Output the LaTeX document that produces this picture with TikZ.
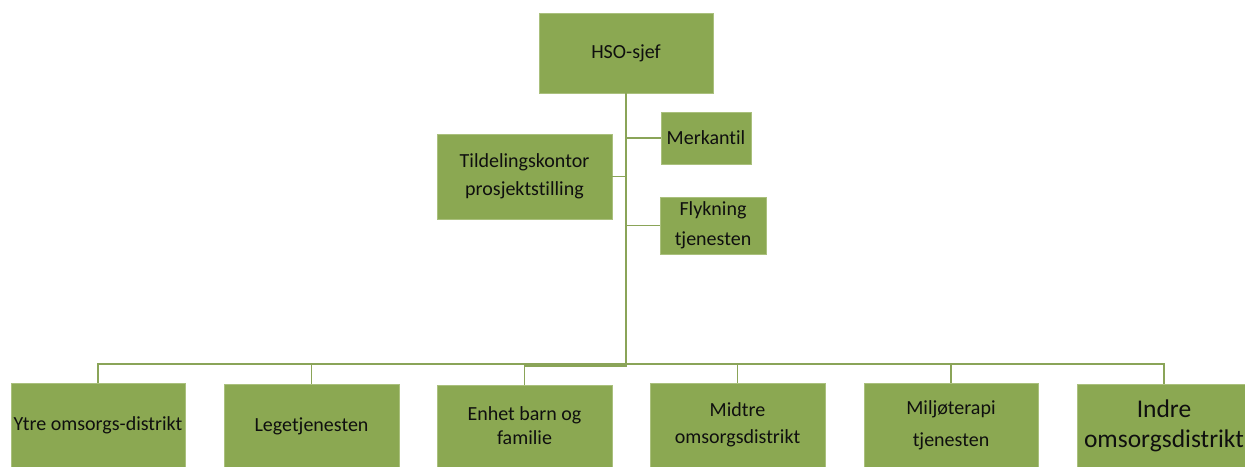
\documentclass[tikz,border=0pt]{standalone}
\usepackage{fontspec}
\setmainfont{Carlito}[Ligatures=NoCommon]
\definecolor{boxgreen}{RGB}{139,168,82}
\definecolor{boxedge}{RGB}{170,192,125}
\definecolor{linegreen}{RGB}{138,164,88}
\definecolor{txt}{RGB}{15,15,15}
\tikzset{
  orgbox/.style={rectangle, fill=boxgreen, draw=boxedge, line width=0.8pt, inner sep=0pt,
    align=center, text=txt, font=\fontsize{20}{28}\selectfont},
  conn/.style={draw=linegreen, line width=1.8pt}
}
\begin{document}
\begin{tikzpicture}[x=1pt,y=-1pt]
\useasboundingbox (0,0) rectangle (1245,466);
% top
\node[orgbox, minimum width=174pt, minimum height=80pt] (hso) at (626,53) {HSO-sjef};
\node[orgbox, minimum width=90pt, minimum height=52pt] (merk) at (706,138) {Merkantil};
\node[orgbox, minimum width=175pt, minimum height=85pt] (tild) at (524.5,176.5) {Tildelingskontor\\prosjektstilling};
\node[orgbox, minimum width=106pt, minimum height=57pt, font=\fontsize{20}{30}\selectfont] (flyk) at (713,225.5) {Flykning\\tjenesten};
% bottom
\node[orgbox, minimum width=174pt, minimum height=84pt] (ytre) at (98,425) {Ytre omsorgs-distrikt};
\node[orgbox, minimum width=175pt, minimum height=84pt] (lege) at (311.5,426) {Legetjenesten};
\node[orgbox, minimum width=175pt, minimum height=82pt, font=\fontsize{20}{24}\selectfont] (enhet) at (524.5,426) {Enhet barn og\\familie};
\node[orgbox, minimum width=175pt, minimum height=84pt, font=\fontsize{20}{27}\selectfont] (midtre) at (737.5,425) {Midtre\\omsorgsdistrikt};
\node[orgbox, minimum width=174pt, minimum height=84pt, font=\fontsize{20}{32}\selectfont] (milj) at (951,425) {Miljøterapi\\tjenesten};
\node[orgbox, minimum width=174pt, minimum height=84pt, font=\fontsize{25.5}{30}\selectfont] (indre) at (1164,426) {Indre\\omsorgsdistrikt};
% connectors
\coordinate (bus) at (626,364);
\coordinate (tend) at (626,366);
\draw[conn] (hso.south) -- (tend) -| (enhet.north);
\draw[conn] (merk.west) -- (merk.west -| hso.south);
\draw[conn] (tild.east) -- (tild.east -| hso.south);
\draw[conn] (flyk.west) -- (flyk.west -| hso.south);
\draw[conn] (ytre.north) |- (bus) -| (indre.north);
\draw[conn] (lege.north) -- (lege.north |- bus);
\draw[conn] (midtre.north) -- (midtre.north |- bus);
\draw[conn] (milj.north) -- (milj.north |- bus);
\end{tikzpicture}
\end{document}
